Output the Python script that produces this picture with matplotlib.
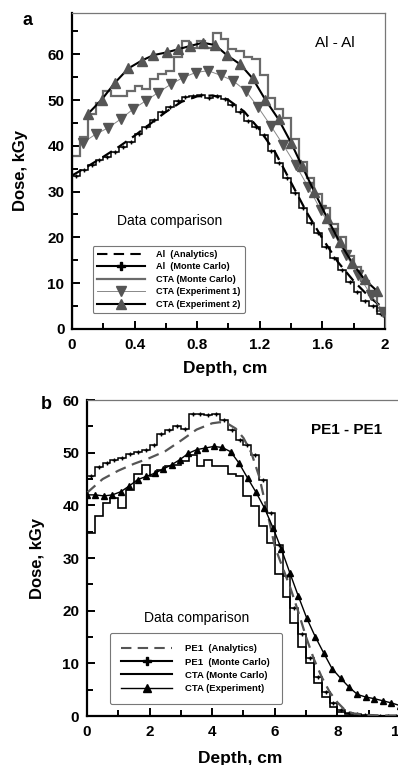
import numpy as np
import matplotlib
matplotlib.use("Agg")
import matplotlib.pyplot as plt
from matplotlib.lines import Line2D

plt.rcParams['font.family'] = ['Liberation Sans', 'DejaVu Sans']

# ---- Panel a: Al - Al ----
a_bin_edges = np.linspace(0, 2, 41)
a_al_mc = [33.5, 34.8, 35.8, 36.8, 37.5, 38.6, 39.8, 40.8, 42.6, 44.2,
           45.6, 47.3, 48.5, 49.8, 50.6, 50.9, 51.0, 50.5, 50.8, 50.2,
           48.8, 47.3, 45.4, 44.0, 42.3, 38.9, 36.2, 33.0, 29.6, 26.5,
           23.2, 21.0, 18.0, 15.5, 12.8, 10.3, 8.0, 6.0, 5.0, 3.2]
a_cta_mc = [37.7, 42.0, 47.0, 49.4, 52.0, 50.9, 50.9, 52.0, 53.1, 52.3,
            54.5, 55.6, 56.3, 59.3, 62.9, 61.3, 62.8, 61.3, 64.7, 63.3,
            61.1, 60.8, 59.3, 59.0, 55.5, 50.5, 48.0, 46.0, 41.5, 36.5,
            33.0, 29.5, 26.5, 23.0, 20.0, 16.0, 13.5, 10.5, 7.5, 4.0]
a_an_x = [0.0, 0.1, 0.2, 0.3, 0.4, 0.5, 0.6, 0.7, 0.8, 0.9, 1.0, 1.1, 1.2,
          1.3, 1.4, 1.5, 1.6, 1.7, 1.8, 1.9, 2.0]
a_an_y = [33.5, 35.5, 37.6, 39.8, 42.2, 44.8, 47.4, 49.6, 50.8, 51.0, 50.0,
          47.5, 43.5, 38.5, 32.0, 25.5, 19.8, 14.6, 10.5, 7.0, 4.3]
a_exp1_x = [0.07, 0.15, 0.23, 0.31, 0.39, 0.47, 0.55, 0.63, 0.71, 0.79, 0.87,
            0.95, 1.03, 1.11, 1.19, 1.27, 1.35, 1.43, 1.51, 1.59, 1.67, 1.75,
            1.83, 1.91, 1.99]
a_exp1_y = [40.7, 42.5, 43.9, 45.8, 48.0, 49.8, 51.6, 53.4, 54.9, 56.0, 56.4,
            55.4, 54.2, 52.0, 48.4, 44.4, 40.2, 35.8, 31.0, 26.0, 21.0, 16.2,
            11.8, 7.5, 3.8]
a_exp2_x = [0.10, 0.19, 0.275, 0.36, 0.445, 0.52, 0.605, 0.68, 0.755, 0.835,
            0.915, 0.99, 1.075, 1.155, 1.235, 1.32, 1.40, 1.47, 1.55, 1.63,
            1.71, 1.79, 1.87, 1.95]
a_exp2_y = [46.9, 50.1, 53.8, 56.9, 58.6, 59.8, 60.4, 61.1, 61.8, 62.5,
            62.0, 59.8, 57.8, 54.7, 50.1, 45.8, 40.7, 35.6, 29.9, 24.3,
            19.0, 14.5, 10.8, 8.3]

# ---- Panel b: PE1 - PE1 ----
b_bin_edges = np.linspace(0, 10, 41)
b_pe_mc = [45.5, 47.3, 48.0, 48.7, 49.0, 49.8, 50.2, 50.5, 51.5, 53.5,
           54.3, 55.0, 54.5, 57.3, 57.3, 57.2, 57.3, 56.3, 54.3, 52.5,
           51.5, 49.5, 44.8, 38.5, 32.5, 26.5, 20.5, 15.5, 11.0, 7.5,
           4.5, 2.5, 1.2, 0.6, 0.3, 0.2, 0.1, 0.1, 0.1, 0.1]
b_cta_mc = [34.7, 38.0, 40.5, 41.5, 39.5, 43.0, 46.0, 47.7, 45.5, 46.8,
            47.4, 47.6, 48.4, 49.6, 47.4, 48.7, 47.4, 47.4, 46.0, 45.5,
            41.7, 39.8, 36.0, 32.8, 27.0, 22.7, 17.6, 13.2, 10.0, 6.2,
            3.7, 1.8, 0.8, 0.3, 0.1, 0.1, 0.0, 0.0, 0.0, 0.0]
b_an_x = [0.0, 0.5, 1.0, 1.5, 2.0, 2.5, 3.0, 3.5, 4.0, 4.25, 4.5, 4.75, 5.0,
          5.25, 5.5, 5.75, 6.0, 6.25, 6.5, 6.75, 7.0, 7.25, 7.5, 7.75, 8.0,
          8.25, 8.5, 9.0, 9.5, 10.0]
b_an_y = [42.4, 45.0, 46.6, 47.9, 49.0, 50.3, 52.3, 54.4, 55.6, 55.8, 55.5,
          54.6, 52.8, 50.0, 45.5, 39.0, 32.2, 28.2, 24.3, 19.8, 15.0, 10.8,
          7.4, 4.6, 2.6, 1.1, 0.5, 0.2, 0.1, 0.1]
b_exp_x = [0.0, 0.27, 0.54, 0.81, 1.08, 1.35, 1.62, 1.89, 2.16, 2.43, 2.7,
           2.97, 3.24, 3.51, 3.78, 4.05, 4.32, 4.59, 4.86, 5.13, 5.4, 5.67,
           5.94, 6.21, 6.48, 6.75, 7.02, 7.29, 7.56, 7.83, 8.1, 8.37, 8.64,
           8.91, 9.18, 9.45, 9.72, 9.99]
b_exp_y = [42.0, 42.0, 41.8, 42.0, 42.6, 43.7, 44.9, 45.5, 46.1, 46.9, 47.7,
           48.7, 49.9, 50.6, 50.9, 51.2, 51.0, 50.2, 48.0, 45.2, 42.5, 39.5,
           35.8, 31.7, 27.2, 22.8, 18.6, 15.1, 12.0, 9.0, 7.2, 5.5, 4.1,
           3.6, 3.3, 2.9, 2.5, 2.0]

grey = '#6a6a6a'
mgrey = '#555555'


def style_axes(ax, xmaj, xmin, ymaj, ymin, xlim, ylim):
    ax.set_xlim(*xlim)
    ax.set_ylim(*ylim)
    ax.set_xticks(xmaj)
    ax.set_xticks(xmin, minor=True)
    ax.set_yticks(ymaj)
    ax.set_yticks(ymin, minor=True)
    ax.tick_params(which='both', direction='in', width=1.4, colors='black')
    ax.tick_params(which='major', length=5.5, labelsize=11)
    ax.tick_params(axis='x', which='major', pad=6.5)
    ax.tick_params(axis='y', which='major', pad=5.5)
    ax.tick_params(which='minor', length=4.5)
    for s in ['left', 'bottom']:
        ax.spines[s].set_linewidth(1.6)
    for s in ['top', 'right']:
        ax.spines[s].set_linewidth(0.9)
        ax.spines[s].set_color('#777777')
    ax.set_xlabel('Depth, cm', fontsize=12.5, fontweight='bold')
    ax.set_ylabel('Dose, kGy', fontsize=12, fontweight='bold')


fig = plt.figure(figsize=(3.98, 7.65), dpi=100)

# ---------------- panel a ----------------
ax1 = fig.add_axes([0.181, 0.570, 0.786, 0.413])
a_centers = (a_bin_edges[:-1] + a_bin_edges[1:]) / 2
ax1.stairs(a_cta_mc, a_bin_edges, color=grey, lw=1.6, zorder=2)
ax1.stairs(a_al_mc, a_bin_edges, color='black', lw=1.1, zorder=3)
ax1.plot(a_centers, a_al_mc, ls='none', marker='+', ms=3.5, mew=1.0,
         color='black', zorder=3)
ax1.plot(a_an_x, a_an_y, color='black', lw=1.6, ls=(0, (5, 3)), zorder=3)
ax1.plot(a_exp1_x, a_exp1_y, color='#888888', lw=0.7, marker='v', ms=6.5,
         mfc=mgrey, mec=mgrey, zorder=4)
ax1.plot(a_exp2_x, a_exp2_y, color='black', lw=1.5, marker='^', ms=6.5,
         mfc=mgrey, mec=mgrey, zorder=4)

style_axes(ax1, [0, 0.4, 0.8, 1.2, 1.6, 2.0], [0.2, 0.6, 1.0, 1.4, 1.8],
           [0, 10, 20, 30, 40, 50, 60], [5, 15, 25, 35, 45, 55, 65],
           (0, 2), (0, 69))
ax1.set_xticklabels(['0', '0.4', '0.8', '1.2', '1.6', '2'])
for lab in ax1.get_xticklabels() + ax1.get_yticklabels():
    lab.set_fontweight('bold')
ax1.xaxis.set_label_coords(0.49, -0.1)
ax1.yaxis.set_label_coords(-0.14, 0.5)

ax1.text(0.84, 0.905, 'Al - Al', transform=ax1.transAxes, fontsize=11,
         ha='center', va='center')
ax1.text(0.313, 0.342, 'Data comparison', transform=ax1.transAxes,
         fontsize=10, ha='center', va='center')

a_handles = [
    Line2D([], [], color='black', lw=1.5, ls=(0, (5, 3))),
    Line2D([], [], color='black', lw=1.5, marker='P', ms=6),
    Line2D([], [], color=grey, lw=1.6),
    Line2D([], [], color='#888888', lw=0.7, marker='v', ms=6.5, mfc=mgrey,
           mec=mgrey),
    Line2D([], [], color='black', lw=1.5, marker='^', ms=6.5, mfc=mgrey,
           mec=mgrey),
]
a_labels = ['Al  (Analytics)', 'Al  (Monte Carlo)', 'CTA (Monte Carlo)',
            'CTA (Experiment 1)', 'CTA (Experiment 2)']
leg1 = ax1.legend(a_handles, a_labels, loc='upper left',
                  bbox_to_anchor=(0.051, 0.278), handlelength=5.3,
                  prop={'weight': 'bold', 'size': 6.6},
                  labelspacing=0.38, borderpad=0.45, handletextpad=1.2,
                  frameon=True, fancybox=True, edgecolor='#777777',
                  framealpha=1)
leg1.get_frame().set_linewidth(0.8)

# ---------------- panel b ----------------
ax2 = fig.add_axes([0.2186, 0.064, 0.7864, 0.413])
b_centers = (b_bin_edges[:-1] + b_bin_edges[1:]) / 2
ax2.stairs(b_cta_mc, b_bin_edges, color='black', lw=1.2, zorder=2)
ax2.stairs(b_pe_mc, b_bin_edges, color='black', lw=1.1, zorder=3)
ax2.plot(b_centers, b_pe_mc, ls='none', marker='+', ms=3.5, mew=1.0,
         color='black', zorder=3)
ax2.plot(b_an_x, b_an_y, color='#555555', lw=1.6, ls=(0, (5, 3)), zorder=3)
ax2.plot(b_exp_x, b_exp_y, color='black', lw=1.0, marker='^', ms=5,
         mfc='black', mec='black', zorder=4)

style_axes(ax2, [0, 2, 4, 6, 8, 10], [1, 3, 5, 7, 9],
           [0, 10, 20, 30, 40, 50, 60], [5, 15, 25, 35, 45, 55],
           (0, 10), (0, 60))
for lab in ax2.get_xticklabels() + ax2.get_yticklabels():
    lab.set_fontweight('bold')
ax2.xaxis.set_label_coords(0.49, -0.11)
ax2.yaxis.set_label_coords(-0.134, 0.5)

ax2.text(0.83, 0.905, 'PE1 - PE1', transform=ax2.transAxes, fontsize=11,
         fontweight='bold', ha='center', va='center')
ax2.text(0.351, 0.31, 'Data comparison', transform=ax2.transAxes,
         fontsize=10, ha='center', va='center')

b_handles = [
    Line2D([], [], color='#555555', lw=1.5, ls=(0, (5, 3))),
    Line2D([], [], color='black', lw=1.5, marker='P', ms=6),
    Line2D([], [], color='black', lw=1.5),
    Line2D([], [], color='black', lw=1.0, marker='^', ms=6, mfc='black'),
]
b_labels = ['PE1  (Analytics)', 'PE1  (Monte Carlo)', 'CTA (Monte Carlo)',
            'CTA (Experiment)']
leg2 = ax2.legend(b_handles, b_labels, loc='upper left',
                  bbox_to_anchor=(0.058, 0.278), handlelength=5.4,
                  prop={'weight': 'bold', 'size': 6.8},
                  labelspacing=0.45, borderpad=1.2, handletextpad=1.4,
                  frameon=True, fancybox=True, edgecolor='#777777',
                  framealpha=1)
leg2.get_frame().set_linewidth(0.8)

fig.text(0.068, 0.973, 'a', fontsize=13, fontweight='bold', ha='center',
         va='center')
fig.text(0.116, 0.471, 'b', fontsize=13, fontweight='bold', ha='center',
         va='center')

fig.savefig('out.png', dpi=100)
